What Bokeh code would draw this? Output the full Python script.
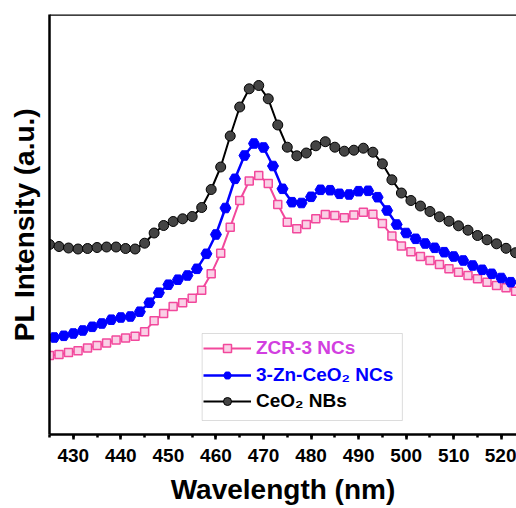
from bokeh.plotting import figure
from bokeh.models import (Range1d, SingleIntervalTicker, FixedTicker, Span,
                          BoxAnnotation, Legend, LegendItem, ColumnDataSource)
from bokeh.embed import file_html
from bokeh.resources import INLINE

# wavelength grids (nm)
wl_odd = [425, 427, 429, 431, 433, 435, 437, 439, 441, 443, 445, 447, 449, 451, 453,
          455, 457, 459, 461, 463, 465, 467, 469, 471, 473, 475, 477, 479, 481, 483,
          485, 487, 489, 491, 493, 495, 497, 499, 501, 503, 505, 507, 509, 511, 513,
          515, 517, 519, 521, 523]
wl_even = [426, 428, 430, 432, 434, 436, 438, 440, 442, 444, 446, 448, 450, 452, 454,
           456, 458, 460, 462, 464, 466, 468, 470, 472, 474, 476, 478, 480, 482, 484,
           486, 488, 490, 492, 494, 496, 498, 500, 502, 504, 506, 508, 510, 512, 514,
           516, 518, 520, 522]

# PL intensity (a.u.)
ceo2_nbs = [190, 188, 186.5, 185.5, 186, 187, 187.5, 187.5, 186, 185.5, 191.3, 201.5,
            209, 213, 215.7, 218, 227, 245, 267.5, 298.5, 327.5, 345.7, 349, 335.7,
            309.5, 287.3, 278.7, 281.5, 288.7, 292.8, 287.3, 283.3, 284.3, 286.3, 282.3,
            270.7, 254.7, 241.5, 234, 228.5, 223, 217.7, 213.3, 208.7, 204.3, 199,
            194.7, 190.7, 186.2, 181.8]
zn_ceo2 = [97, 98.7, 101, 104, 107.7, 111, 114.8, 117, 118, 122.8, 131.8, 141.8, 149.8,
           154.8, 159, 165.7, 180.7, 200, 226.5, 255.7, 279, 291, 287, 268.5, 245.7,
           232.3, 231.5, 237.7, 244.7, 244.3, 240.7, 240, 243.3, 243.7, 237.3, 224, 210,
           201.5, 195.7, 191, 186.7, 182.3, 178, 174, 169, 164.7, 160.7, 156.5, 152.3]
zcr3 = [79, 80, 82, 83.7, 86.5, 89, 91.5, 94.5, 96.5, 98.2, 102.8, 113.7, 121, 128,
        131.8, 136.2, 144.3, 160.7, 181.3, 207.3, 234, 253.5, 259, 251, 230, 212.3,
        205.7, 210, 215.7, 220, 219, 216.7, 219.5, 222.3, 220.3, 211, 198.5, 188.5,
        182.8, 178, 174, 170, 165.7, 162.3, 159, 155.7, 152.3, 149, 146.7, 143.3]

series_labels = ["ZCR-3 NCs", "3-Zn-CeO\u2082 NCs", "CeO\u2082 NBs"]

FONT = "Liberation Sans"
PINK = "#F2489C"
PINK_TXT = "#D23FE0"
BLUE = "#0000FF"
BLACK = "#000000"

p = figure(width=516, height=508, x_range=Range1d(425, 523.2), y_range=Range1d(0, 420),
           output_backend="svg", toolbar_location=None,
           min_border_left=49, min_border_right=0, min_border_top=14, min_border_bottom=74,
           outline_line_color=None, background_fill_color="white",
           border_fill_color="white")
p.xgrid.visible = False
p.ygrid.visible = False

# axes
xa = p.xaxis[0]
xa.ticker = SingleIntervalTicker(interval=10, num_minor_ticks=2)
xa.axis_line_width = 2.5
xa.major_tick_line_width = 2.5
xa.minor_tick_line_width = 2.5
xa.major_tick_out = 5
xa.major_tick_in = 0
xa.minor_tick_out = 3
xa.minor_tick_in = 0
xa.major_label_text_font = FONT
xa.major_label_text_font_style = "bold"
xa.major_label_text_font_size = "19px"
xa.major_label_text_color = "black"
xa.major_label_standoff = 9
xa.axis_label = "Wavelength (nm)"
xa.axis_label_text_font = FONT
xa.axis_label_text_font_style = "bold"
xa.axis_label_text_font_size = "28px"
xa.axis_label_text_color = "black"
xa.axis_label_standoff = 9

ya = p.yaxis[0]
ya.ticker = FixedTicker(ticks=[])
ya.axis_line_width = 2.5
ya.major_tick_out = 0
ya.major_tick_in = 0
ya.minor_tick_out = 0
ya.minor_tick_in = 0
ya.axis_label = "PL Intensity (a.u.)"
ya.axis_label_text_font = FONT
ya.axis_label_text_font_style = "bold"
ya.axis_label_text_font_size = "28px"
ya.axis_label_text_color = "black"
ya.axis_label_standoff = 10

p.add_layout(Span(location=420, dimension="width", line_color="black", line_width=2.5))

src_odd = ColumnDataSource(dict(x=wl_odd, zcr=zcr3, ceo=ceo2_nbs))
src_even = ColumnDataSource(dict(x=wl_even, zn=zn_ceo2))

# series
l1 = p.line("x", "zcr", source=src_odd, line_color=PINK, line_width=2)
s1 = p.scatter("x", "zcr", source=src_odd, marker="square", size=8, fill_color="#FAD0E6",
               line_color=PINK, line_width=1.5)
l2 = p.line("x", "zn", source=src_even, line_color=BLUE, line_width=2.5)
s2 = p.scatter("x", "zn", source=src_even, marker="hex", size=11, fill_color=BLUE,
               line_color=BLUE, line_width=1)
l3 = p.line("x", "ceo", source=src_odd, line_color=BLACK, line_width=2)
s3 = p.scatter("x", "ceo", source=src_odd, marker="circle", size=10, fill_color="#444444",
               line_color=BLACK, line_width=1)

# legend frame
p.add_layout(BoxAnnotation(left=457.1, right=499.2, bottom=14, top=101,
                           fill_color="white", fill_alpha=1.0,
                           line_color="#8C8C8C", line_width=1))

rows = [(series_labels[0], [l1, s1], PINK_TXT, 75),
        (series_labels[1], [l2, s2], BLUE, 48.5),
        (series_labels[2], [l3, s3], BLACK, 22)]
for lab, rends, col, vy in rows:
    lg = Legend(items=[LegendItem(label=lab, renderers=rends)], location=(154, vy),
                padding=0, margin=0, border_line_color=None, background_fill_alpha=0,
                glyph_width=48, glyph_height=20, label_standoff=5,
                label_text_font=FONT, label_text_font_style="bold",
                label_text_font_size="19px", label_text_color=col)
    p.add_layout(lg)

open("out.html", "w").write(file_html(p, INLINE))
